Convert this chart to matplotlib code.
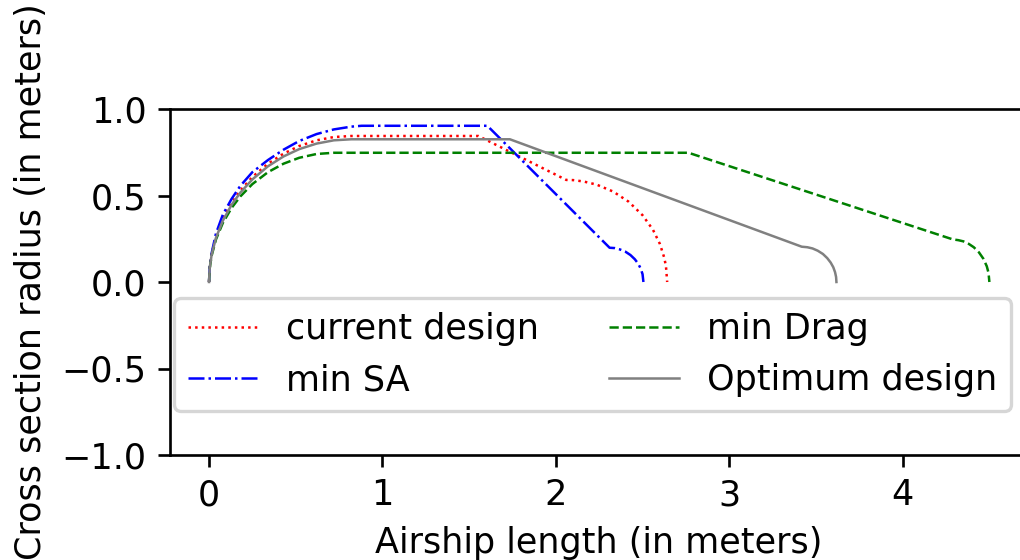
import matplotlib
matplotlib.use("Agg")
import matplotlib.pyplot as plt

# ---- data ----
current_x = [0, 0.004, 0.015, 0.04, 0.08, 0.13, 0.18, 0.25, 0.34, 0.43, 0.52, 0.62, 0.72, 0.82,
             1.553, 2.06, 2.10, 2.16, 2.235, 2.33, 2.42, 2.50, 2.56, 2.60, 2.625, 2.635, 2.642]
current_y = [0, 0.083, 0.161, 0.260, 0.364, 0.456, 0.528, 0.607, 0.684, 0.742, 0.786, 0.819, 0.838, 0.844,
             0.844, 0.590, 0.589, 0.581, 0.563, 0.523, 0.464, 0.386, 0.302, 0.220, 0.141, 0.091, 0.0]

minsa_x = [0, 0.004, 0.015, 0.04, 0.08, 0.13, 0.18, 0.25, 0.34, 0.43, 0.52, 0.62, 0.72, 0.82, 0.88,
           1.605, 2.31, 2.34, 2.37, 2.40, 2.43, 2.455, 2.475, 2.49, 2.50, 2.505]
minsa_y = [0, 0.086, 0.166, 0.280, 0.390, 0.480, 0.555, 0.635, 0.705, 0.765, 0.815, 0.855, 0.882, 0.898, 0.903,
           0.903, 0.198, 0.196, 0.188, 0.176, 0.156, 0.132, 0.106, 0.076, 0.045, 0.0]

mindrag_x = [0, 0.004, 0.015, 0.04, 0.08, 0.13, 0.18, 0.25, 0.34, 0.43, 0.52, 0.62, 0.72,
             2.765, 4.29, 4.32, 4.35, 4.38, 4.41, 4.44, 4.465, 4.485, 4.495, 4.50]
mindrag_y = [0, 0.079, 0.152, 0.246, 0.342, 0.428, 0.494, 0.566, 0.635, 0.684, 0.718, 0.740, 0.747,
             0.747, 0.246, 0.242, 0.235, 0.221, 0.201, 0.171, 0.135, 0.091, 0.053, 0.0]

optimum_x = [0, 0.004, 0.015, 0.04, 0.08, 0.13, 0.18, 0.25, 0.34, 0.43, 0.52, 0.62, 0.72, 0.82,
             1.735, 3.418, 3.45, 3.48, 3.51, 3.54, 3.565, 3.585, 3.60, 3.61, 3.616, 3.618]
optimum_y = [0, 0.081, 0.157, 0.255, 0.355, 0.446, 0.516, 0.593, 0.669, 0.726, 0.768, 0.800, 0.819, 0.825,
             0.825, 0.204, 0.201, 0.194, 0.181, 0.162, 0.138, 0.112, 0.085, 0.057, 0.029, 0.0]

labels = ["current design", "min SA", "min Drag", "Optimum design"]
y_ticks = [-1.0, -0.5, 0.0, 0.5, 1.0]
x_ticks = [0, 1, 2, 3, 4]

plt.rcParams["font.size"] = 10.5

fig = plt.figure(figsize=(1020 / 240, 560 / 240), dpi=240)
ax = fig.add_axes([170 / 1020, 105 / 560, 858.4 / 1020, 346 / 560])

lw = 0.75
ax.plot(current_x, current_y, color="red", linestyle=":", linewidth=lw, label=labels[0])
ax.plot(minsa_x, minsa_y, color="blue", linestyle="-.", linewidth=lw, label=labels[1])
ax.plot(mindrag_x, mindrag_y, color="green", linestyle="--", linewidth=lw, label=labels[2])
ax.plot(optimum_x, optimum_y, color="grey", linestyle="-", linewidth=lw, label=labels[3])

ax.set_xlim(-0.225, 4.725)
ax.set_ylim(-1.0, 1.0)
ax.set_xticks(x_ticks)
ax.set_yticks(y_ticks)
ax.set_xlabel("Airship length (in meters)")
ax.set_ylabel("Cross section radius (in meters)")

ax.legend(ncol=2, loc="upper left", bbox_to_anchor=(0.0047, 0.4538), borderaxespad=0)

fig.savefig("out.png", dpi=240)
